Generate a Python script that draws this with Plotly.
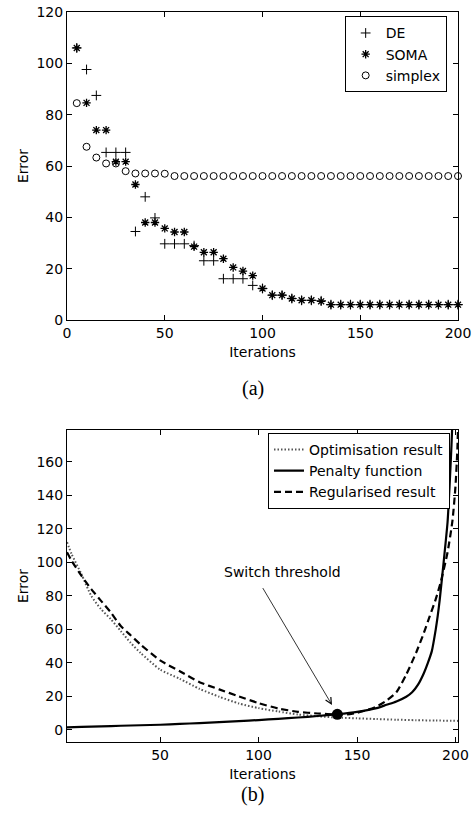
import plotly.graph_objects as go

# ---------------- Panel (a) data ----------------
iterations_a = [5, 10, 15, 20, 25, 30, 35, 40, 45, 50, 55, 60, 65, 70, 75, 80, 85, 90, 95, 100,
                105, 110, 115, 120, 125, 130, 135, 140, 145, 150, 155, 160, 165, 170, 175, 180,
                185, 190, 195, 200]
de_error = [106, 97.6, 87.5, 65.3, 65.3, 65.3, 34.5, 48, 39.8, 29.7, 29.7, 29.7, 29, 23.1, 23.1,
            16.1, 16.1, 16.1, 13.5, 12.3, 9.7, 9.7, 8.4, 7.7, 7.7, 7.5, 6, 6, 6, 6, 6, 6, 6, 6,
            6, 6, 6, 6, 6, 6]
soma_error = [106, 84.6, 74, 74, 61.7, 61.7, 52.8, 38, 38, 35.7, 34.3, 34.3, 28.6, 26.4, 26.4,
              23.9, 20.5, 19.1, 17.3, 12.3, 9.7, 9.7, 8.4, 7.7, 7.7, 7.3, 6, 6, 6, 6, 6, 6, 6, 6,
              6, 6, 6, 6, 6, 6]
simplex_error = [84.5, 67.5, 63.3, 61, 61, 58, 57.1, 57.1, 57.1, 57, 56.1, 56.1, 56.1, 56.1, 56.1,
                 56.1, 56.1, 56.1, 56.1, 56.1, 56.1, 56.1, 56.1, 56.1, 56.1, 56.1, 56.1, 56.1, 56.1,
                 56.1, 56.1, 56.1, 56.1, 56.1, 56.1, 56.1, 56.1, 56.1, 56.1, 56.1]

# ---------------- Panel (b) data ----------------
opt_x = [2.7, 5, 10, 15, 20, 25, 30, 35, 40, 50, 60, 70, 80, 90, 100, 110, 120, 130, 140, 150,
         160, 170, 180, 190, 201.3]
opt_y = [112, 105, 93, 80, 72, 66, 59, 52, 46, 36, 30.5, 24.5, 19.8, 15.8, 13, 11, 9.2, 8.2,
         7.4, 6.9, 6.5, 6.1, 5.8, 5.6, 5.4]

pen_x = [2.7, 10, 20, 30, 40, 50, 60, 70, 80, 90, 100, 110, 120, 130, 140, 150, 160, 165, 170,
         175, 178, 181, 184, 186, 188, 190, 191, 192, 194, 196, 197, 198, 199]
pen_y = [1.5, 1.8, 2.1, 2.5, 2.8, 3.1, 3.6, 4.1, 4.7, 5.3, 5.9, 6.6, 7.4, 8.3, 9.4, 10.8, 13.0,
         15.0, 17.0, 19.8, 22.5, 27, 34, 40, 47, 60, 68, 77.5, 100, 124, 145, 170, 200]

reg_x = [2.7, 5, 10, 15, 20, 25, 30, 35, 40, 50, 60, 70, 80, 90, 100, 110, 120, 130, 140, 145,
         150, 155, 160, 165, 170, 175, 180, 184, 187, 190, 192.5, 196, 198.5, 200, 201, 201.5]
reg_y = [106, 101, 92, 84, 77, 70, 62, 56.5, 51, 41.5, 35, 28.5, 24.2, 20, 16, 12.8, 10.8, 9.8,
         9.2, 9.3, 10.2, 11.8, 14, 17.5, 22.5, 33, 46, 58, 68, 78, 88, 106, 125, 145, 168, 190]

switch_x = [140]
switch_y = [9.3]

FONT = "DejaVu Sans"
BLACK = "#000000"

fig = go.Figure()

# Panel (a)
fig.add_trace(go.Scatter(x=iterations_a, y=de_error, mode="markers", name="DE",
                         marker=dict(symbol="cross-thin", size=7, color=BLACK,
                                     line=dict(width=1, color=BLACK)),
                         cliponaxis=False, xaxis="x", yaxis="y", legend="legend"))
fig.add_trace(go.Scatter(x=iterations_a, y=soma_error, mode="markers", name="SOMA",
                         marker=dict(symbol="asterisk", size=7, color=BLACK,
                                     line=dict(width=1.3, color=BLACK)),
                         cliponaxis=False, xaxis="x", yaxis="y", legend="legend"))
fig.add_trace(go.Scatter(x=iterations_a, y=simplex_error, mode="markers", name="simplex",
                         marker=dict(symbol="circle-open", size=7, color=BLACK,
                                     line=dict(width=1, color=BLACK)),
                         cliponaxis=False, xaxis="x", yaxis="y", legend="legend"))

# Panel (b)
fig.add_trace(go.Scatter(x=opt_x, y=opt_y, mode="lines", name="Optimisation result",
                         line=dict(color="#555555", width=2, dash="1.5px,2px", shape="spline",
                                   smoothing=0.6),
                         xaxis="x2", yaxis="y2", legend="legend2"))
fig.add_trace(go.Scatter(x=pen_x, y=pen_y, mode="lines", name="Penalty function",
                         line=dict(color=BLACK, width=2.2, shape="spline", smoothing=0.6),
                         xaxis="x2", yaxis="y2", legend="legend2"))
fig.add_trace(go.Scatter(x=reg_x, y=reg_y, mode="lines", name="Regularised result",
                         line=dict(color=BLACK, width=2.2, dash="7px,4px", shape="spline",
                                   smoothing=0.6),
                         xaxis="x2", yaxis="y2", legend="legend2"))
fig.add_trace(go.Scatter(x=switch_x, y=switch_y, mode="markers", showlegend=False,
                         marker=dict(symbol="circle", size=11, color=BLACK),
                         xaxis="x2", yaxis="y2"))

axis_common = dict(showline=True, linecolor=BLACK, linewidth=1, mirror="allticks",
                   ticks="inside", ticklen=5, tickwidth=1, tickcolor=BLACK,
                   showgrid=False, zeroline=False, automargin=False,
                   ticklabeloverflow="allow",
                   tickfont=dict(family=FONT, size=14, color=BLACK))

fig.update_layout(
    template="none",
    width=474, height=823,
    margin=dict(l=67, r=16, t=12, b=81, pad=0),
    paper_bgcolor="white", plot_bgcolor="white",
    font=dict(family=FONT, size=14, color=BLACK),
    xaxis=dict(domain=[0, 1], range=[0, 200], tickvals=[0, 50, 100, 150, 200],
               anchor="y",
               title=dict(text="Iterations", standoff=7, font=dict(family=FONT, size=14)),
               **axis_common),
    yaxis=dict(domain=[0.578, 1], range=[0, 120], tickvals=[0, 20, 40, 60, 80, 100, 120],
               anchor="x",
               title=dict(text="Error", standoff=4, font=dict(family=FONT, size=14)),
               **axis_common),
    xaxis2=dict(domain=[0, 1], range=[2.7, 201.3], tickvals=[50, 100, 150, 200],
                anchor="y2",
                title=dict(text="Iterations", standoff=7, font=dict(family=FONT, size=14)),
                **axis_common),
    yaxis2=dict(domain=[0, 0.4274], range=[-7.2, 178.9],
                tickvals=[0, 20, 40, 60, 80, 100, 120, 140, 160], anchor="x2",
                title=dict(text="Error", standoff=4, font=dict(family=FONT, size=14)),
                **axis_common),
    legend=dict(x=0.971, y=0.994, xanchor="right", yanchor="top",
                bgcolor="white", bordercolor=BLACK, borderwidth=1,
                font=dict(family=FONT, size=14, color=BLACK), tracegroupgap=0),
    legend2=dict(x=0.9795, y=0.4235, xanchor="right", yanchor="top",
                 bgcolor="white", bordercolor=BLACK, borderwidth=1,
                 font=dict(family=FONT, size=14, color=BLACK), tracegroupgap=0),
    showlegend=True,
)

# Annotations: switch threshold text + arrow, captions
fig.add_annotation(x=112.3, y=94.4, xref="x2", yref="y2", text="Switch threshold",
                   showarrow=False, font=dict(family=FONT, size=14, color=BLACK))
fig.add_annotation(x=137.3, y=14.9, xref="x2", yref="y2", ax=101.7, ay=85.5,
                   axref="x2", ayref="y2", text="", showarrow=True,
                   arrowhead=5, arrowsize=1.5, arrowwidth=0.8, arrowcolor=BLACK)
fig.add_annotation(x=0.4757, y=0.4849, xref="paper", yref="paper", text="(a)",
                   showarrow=False, font=dict(family="Liberation Serif", size=20, color=BLACK))
fig.add_annotation(x=0.4757, y=-0.0904, xref="paper", yref="paper", text="(b)",
                   showarrow=False, font=dict(family="Liberation Serif", size=20, color=BLACK))

# Remove the browser's default 8px page margin so the figure sits at the window origin.
fig.write_html("out.html", config={"displayModeBar": False},
               post_script="document.body.style.margin='0';")
